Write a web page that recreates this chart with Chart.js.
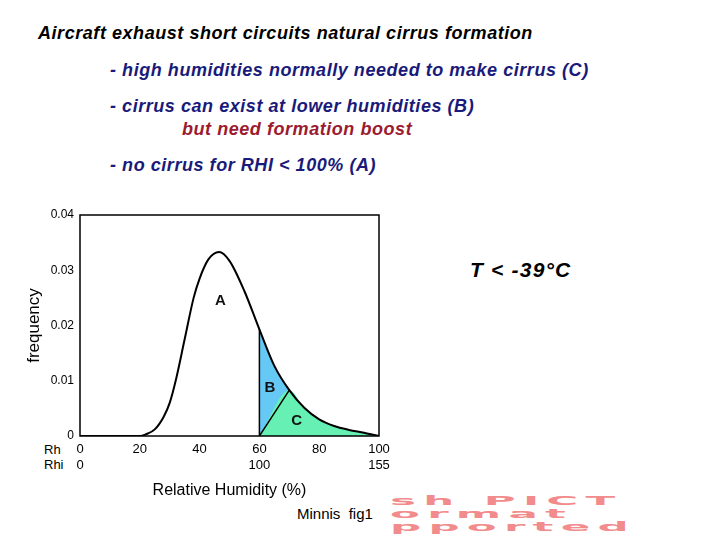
<!DOCTYPE html>
<html><head><meta charset="utf-8">
<script src="https://cdn.jsdelivr.net/npm/chart.js@4"></script>
<style>
body{margin:0;width:720px;height:540px;background:#fff;position:relative;overflow:hidden;font-family:"Liberation Sans",Arial,sans-serif}
.t{position:absolute;font-weight:bold;font-style:italic;font-size:18px;letter-spacing:0.55px;white-space:nowrap}
#wrap{position:absolute;left:20px;top:200px;width:380px;height:310px}
.pict{position:absolute;left:390px;font-family:"DejaVu Sans",sans-serif;font-weight:900;color:#f28b8b;font-size:30px;letter-spacing:5px;transform:scale(1.45,0.42);transform-origin:top left;white-space:nowrap;line-height:30px}
</style></head><body>
<div class="t" style="left:38px;top:23px;color:#000">Aircraft exhaust short circuits natural cirrus formation</div>
<div class="t" style="left:110px;top:60px;color:#1a1a7a">- high humidities normally needed to make cirrus (C)</div>
<div class="t" style="left:110px;top:96px;color:#1a1a7a">- cirrus can exist at lower humidities (B)</div>
<div class="t" style="left:182px;top:119px;color:#9b1b30">but need formation boost</div>
<div class="t" style="left:110px;top:155px;color:#1a1a7a">- no cirrus for RHI &lt; 100% (A)</div>
<div class="t" style="left:470px;top:258px;color:#000;font-size:21px;letter-spacing:1.2px">T &lt; -39°C</div>
<div style="position:absolute;left:297px;top:505px;font-size:15px;color:#000">Minnis&nbsp; fig1</div>
<div class="pict" style="top:494px">sh PICT</div>
<div class="pict" style="top:507px">ormat</div>
<div class="pict" style="top:520px">pported</div>
<div style="position:absolute;left:44px;top:442px;font-size:13px">Rh</div>
<div style="position:absolute;left:44px;top:457px;font-size:13px">Rhi</div>
<div id="wrap"><canvas id="c" width="380" height="310"></canvas></div>
<script>
const rh   = [0,10,20,22,25,28,30,32,35,38,40,43,46.5,50,55,60,65,70,75,80,85,90,95,100];
const freq = [0,0,0,0.0003,0.0012,0.0035,0.006,0.010,0.0175,0.025,0.0285,0.032,0.0333,0.0317,0.0262,0.0193,0.0127,0.0083,0.0051,0.003,0.0018,0.0011,0.0006,0];
const rhiLabels = {0:'0',60:'100',100:'155'};
const yTicks = [0,0.01,0.02,0.03,0.04];
const splitRh = 60, diagEndRh = 70;

const pts = rh.map((x,i)=>({x,y:freq[i]}));
const bPts = pts.filter(p=>p.x>=splitRh);
const cPts = [{x:splitRh,y:0}].concat(pts.filter(p=>p.x>=diagEndRh));
const yAt = x => freq[rh.indexOf(x)];
const common = {pointRadius:0,cubicInterpolationMode:'monotone',borderColor:'#000',borderWidth:2};

const labels = {id:'lbl',afterDatasetsDraw(c){
  const {ctx,chartArea:a,scales:{x,y}}=c;
  ctx.save();ctx.strokeStyle='#000';ctx.lineWidth=1.5;ctx.strokeRect(a.left,a.top,a.width,a.height);
  ctx.font='bold 15px "Liberation Sans",Arial';ctx.fillStyle='#111';ctx.textAlign='center';ctx.textBaseline='middle';
  ctx.fillText('A',x.getPixelForValue(47),y.getPixelForValue(0.0245));
  ctx.fillText('B',x.getPixelForValue(63.5),y.getPixelForValue(0.0087));
  ctx.fillText('C',x.getPixelForValue(72.5),y.getPixelForValue(0.0027));
  ctx.restore();}};

new Chart(document.getElementById('c'),{
  type:'line',
  data:{datasets:[
    {...common,data:bPts,fill:'origin',backgroundColor:'#66c8f5',borderWidth:0,order:5},
    {...common,data:cPts,fill:'origin',backgroundColor:'#66f0b4',borderWidth:0,order:4},
    {...common,data:[{x:splitRh,y:0},{x:diagEndRh,y:yAt(diagEndRh)}],borderWidth:1.5,order:2},
    {...common,data:[{x:splitRh,y:0},{x:splitRh,y:yAt(splitRh)}],borderWidth:1.5,order:2},
    {...common,data:pts,fill:false,order:1}
  ]},
  options:{responsive:false,animation:false,devicePixelRatio:1,
    layout:{padding:{top:15,right:21,left:0,bottom:0}},
    plugins:{legend:{display:false},tooltip:{enabled:false}},
    scales:{
      x:{type:'linear',min:0,max:100,grid:{display:false,drawTicks:false},border:{display:false},
        afterFit(s){s.height=74;},
        afterBuildTicks(s){s.ticks=[0,20,40,60,80,100].map(v=>({value:v}));},
        ticks:{color:'#000',padding:6,maxRotation:0,font:{size:13,family:'"Liberation Sans",Arial'},
          callback:v=>[String(v),rhiLabels[v]||'']},
        title:{display:true,text:'Relative Humidity (%)',color:'#000',font:{size:16,family:'"Liberation Sans",Arial'},padding:{top:0,bottom:10}}},
      y:{min:0,max:0.04,grid:{display:false,drawTicks:false},border:{display:false},
        afterFit(s){s.width=60;},
        afterBuildTicks(s){s.ticks=yTicks.map(v=>({value:v}));},
        ticks:{color:'#000',padding:6,font:{size:12,family:'"Liberation Sans",Arial'},callback:v=>v===0?'0':String(v)},
        title:{display:true,text:'frequency',color:'#000',font:{size:17,family:'"Liberation Sans",Arial'},padding:{bottom:2}}}
    }},
  plugins:[labels]
});
</script>
</body></html>
